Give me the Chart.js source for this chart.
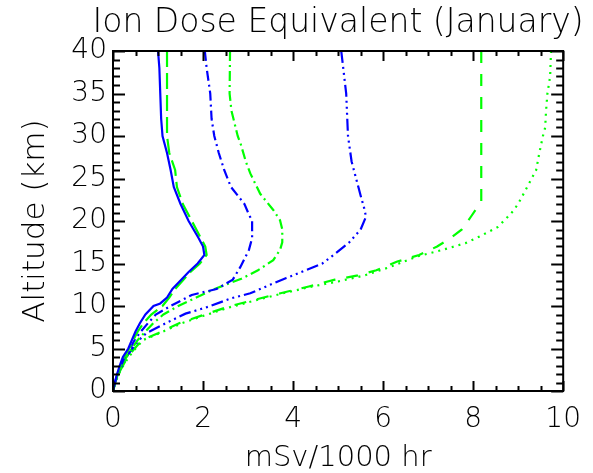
<!DOCTYPE html>
<html>
<head>
<meta charset="utf-8">
<script src="https://cdn.jsdelivr.net/npm/chart.js@4.4.0/dist/chart.umd.min.js"></script>
<style>
  html, body { margin: 0; padding: 0; background: #fff; }
  canvas { display: block; }
</style>
</head>
<body>
<canvas id="doseChart" width="593" height="473"></canvas>
<script>
// altitude (km) / dose equivalent (mSv per 1000 hr) profiles
var altA = [40, 38, 35, 32, 30, 28, 26, 24, 22, 20, 18, 17, 16, 15, 14, 13, 12, 11, 10.3, 10, 9, 8, 7, 6, 5, 4, 3, 2, 1, 0];
var doseA = [1.0, 1.03, 1.05, 1.07, 1.1, 1.2, 1.28, 1.35, 1.5, 1.68, 1.9, 2.0, 2.03, 1.88, 1.68, 1.5, 1.32, 1.2, 1.05, 0.9, 0.72, 0.6, 0.5, 0.42, 0.34, 0.22, 0.15, 0.09, 0.04, 0];

var altB = [40, 30, 28, 26, 24, 22, 20, 18, 17, 16, 15, 14, 13, 12, 11, 10, 9, 8, 7, 6, 5, 4, 3, 2, 1, 0];
var doseB = [1.2, 1.2, 1.25, 1.38, 1.42, 1.55, 1.75, 1.95, 2.05, 2.08, 1.93, 1.72, 1.55, 1.38, 1.25, 1.1, 0.85, 0.68, 0.55, 0.45, 0.36, 0.25, 0.17, 0.1, 0.05, 0];

var altC = [40, 38, 35, 32, 30, 28, 26, 24, 22, 21, 20, 18, 16.6, 14.6, 13.1, 12, 11.3, 10, 9, 8, 7, 6, 5, 4, 3, 2, 1, 0];
var doseC = [2.04, 2.08, 2.16, 2.19, 2.25, 2.35, 2.47, 2.62, 2.92, 3.0, 3.09, 3.09, 3.02, 2.83, 2.66, 2.3, 1.75, 1.28, 0.95, 0.78, 0.62, 0.48, 0.38, 0.26, 0.18, 0.1, 0.04, 0];

var altD = [40, 35, 33, 30, 29, 27, 25.6, 24.5, 23.2, 21.3, 20.1, 19, 17.5, 16.6, 15.4, 14.2, 13.2, 12.1, 11, 10, 9, 8, 7, 6, 5, 4, 3, 2, 1, 0];
var doseD = [2.6, 2.59, 2.63, 2.77, 2.84, 2.95, 3.05, 3.15, 3.27, 3.56, 3.71, 3.76, 3.76, 3.71, 3.56, 3.22, 2.85, 2.3, 1.85, 1.45, 1.12, 0.9, 0.72, 0.55, 0.42, 0.3, 0.2, 0.11, 0.05, 0];

var altE = [40, 35, 30, 27, 25, 23, 21.5, 20.5, 19, 17.5, 16, 15, 14.2, 13.3, 12.5, 11.5, 10.9, 9.9, 9.1, 8, 6.8, 6, 5, 4, 3, 2, 1, 0];
var doseE = [5.07, 5.18, 5.22, 5.3, 5.4, 5.5, 5.58, 5.62, 5.5, 5.25, 4.9, 4.65, 4.28, 3.85, 3.49, 3.05, 2.62, 2.11, 1.61, 1.18, 0.74, 0.58, 0.43, 0.3, 0.2, 0.11, 0.05, 0];

var altF = [40, 22.3, 21.5, 20.5, 19, 18, 17, 16, 15.2, 14.2, 13.6, 13.1, 12.3, 11.5, 10.7, 9.9, 8.9, 8, 6.8, 6, 5, 4, 3, 2, 1, 0];
var doseF = [8.18, 8.18, 8.08, 7.95, 7.75, 7.5, 7.2, 6.8, 6.3, 5.85, 5.44, 4.93, 4.35, 3.72, 3.12, 2.55, 1.98, 1.48, 1.0, 0.65, 0.48, 0.33, 0.22, 0.12, 0.05, 0];

var altG = [40, 37, 35, 33, 31, 30, 28, 26, 24, 22.5, 21.3, 20.5, 19.3, 18.2, 17.4, 16.6, 15.8, 14.6, 13.6, 12.9, 12.3, 11.5, 10.7, 9.9, 8.9, 8, 6.8, 6, 5, 4, 3, 2, 1, 0];
var doseG = [9.73, 9.71, 9.65, 9.62, 9.6, 9.55, 9.47, 9.4, 9.2, 9.05, 8.91, 8.77, 8.55, 8.15, 7.83, 7.32, 6.74, 6.16, 5.59, 5.01, 4.43, 3.78, 3.2, 2.62, 2.04, 1.54, 1.03, 0.67, 0.5, 0.35, 0.23, 0.13, 0.05, 0];

var TITLE = 'Ion Dose Equivalent (January)';
var BLUE = '#0000ff';
var GREEN = '#00ff00';
var FONT = "'DejaVu Sans', sans-serif";

function profile(alts, doses, color, dash) {
  return {
    data: alts.map(function (a, i) { return { x: doses[i], y: a }; }),
    showLine: true,
    borderColor: color,
    borderWidth: 2.2,
    borderDash: dash,
    pointRadius: 0,
    fill: false,
    tension: 0
  };
}

// box around the plot with inward major/minor ticks on all four sides,
// plus the title centred over the plot box
var frameTicks = {
  id: 'frameTicks',
  afterDraw: function (chart) {
    var ctx = chart.ctx, a = chart.chartArea;
    var xs = chart.scales.x, ys = chart.scales.y;
    ctx.save();
    ctx.strokeStyle = '#000';
    ctx.lineWidth = 2;
    ctx.strokeRect(a.left, a.top, a.right - a.left, a.bottom - a.top);
    ctx.beginPath();
    for (var v = 0; v <= 10; v += 0.5) {
      var px = Math.round(xs.getPixelForValue(v)) + 0.5;
      var len = (v % 2 === 0) ? 10 : 5;
      ctx.moveTo(px, a.bottom); ctx.lineTo(px, a.bottom - len);
      ctx.moveTo(px, a.top); ctx.lineTo(px, a.top + len);
    }
    for (var k = 0; k <= 40; k += 1) {
      var py = Math.round(ys.getPixelForValue(k)) + 0.5;
      var l = (k % 5 === 0) ? 12 : 7;
      ctx.moveTo(a.left, py); ctx.lineTo(a.left + l, py);
      ctx.moveTo(a.right, py); ctx.lineTo(a.right - l, py);
    }
    ctx.stroke();

    ctx.fillStyle = '#000';
    ctx.font = '200 33px ' + FONT;
    ctx.textAlign = 'center';
    ctx.textBaseline = 'middle';
    ctx.fillText(TITLE, (a.left + a.right) / 2, 23);
    ctx.restore();
  }
};

new Chart(document.getElementById('doseChart').getContext('2d'), {
  type: 'scatter',
  data: {
    datasets: [
      profile(altA, doseA, BLUE, []),
      profile(altB, doseB, GREEN, [16, 6]),
      profile(altC, doseC, BLUE, [10, 4, 2, 4]),
      profile(altD, doseD, GREEN, [10, 4, 2, 4]),
      profile(altE, doseE, BLUE, [12, 4, 2, 4, 2, 4, 2, 4]),
      profile(altF, doseF, GREEN, [12, 11]),
      profile(altG, doseG, GREEN, [2, 5])
    ]
  },
  options: {
    responsive: false,
    animation: false,
    layout: { padding: { left: 0, right: 19, top: 51, bottom: 0 } },
    plugins: {
      legend: { display: false },
      tooltip: { enabled: false },
      title: { display: false }
    },
    scales: {
      x: {
        type: 'linear',
        min: 0,
        max: 10,
        grid: { display: false, drawTicks: false },
        border: { display: false },
        ticks: {
          stepSize: 2,
          autoSkip: false,
          maxRotation: 0,
          color: '#000',
          padding: 12,
          font: { family: FONT, size: 28, weight: 200 }
        },
        title: {
          display: true,
          text: 'mSv/1000 hr',
          color: '#000',
          font: { family: FONT, size: 29, weight: 200, lineHeight: 1 },
          padding: { top: 0, bottom: 0 }
        },
        afterFit: function (s) { s.height = 82; }
      },
      y: {
        type: 'linear',
        min: 0,
        max: 40,
        grid: { display: false, drawTicks: false },
        border: { display: false },
        ticks: {
          stepSize: 5,
          autoSkip: false,
          color: '#000',
          padding: 6,
          font: { family: FONT, size: 28, weight: 200 }
        },
        title: {
          display: true,
          text: 'Altitude (km)',
          color: '#000',
          font: { family: FONT, size: 31, weight: 200, lineHeight: 1.2 },
          padding: { top: 17, bottom: 0 }
        },
        afterFit: function (s) { s.width = 113; }
      }
    }
  },
  plugins: [frameTicks]
});
</script>
</body>
</html>
